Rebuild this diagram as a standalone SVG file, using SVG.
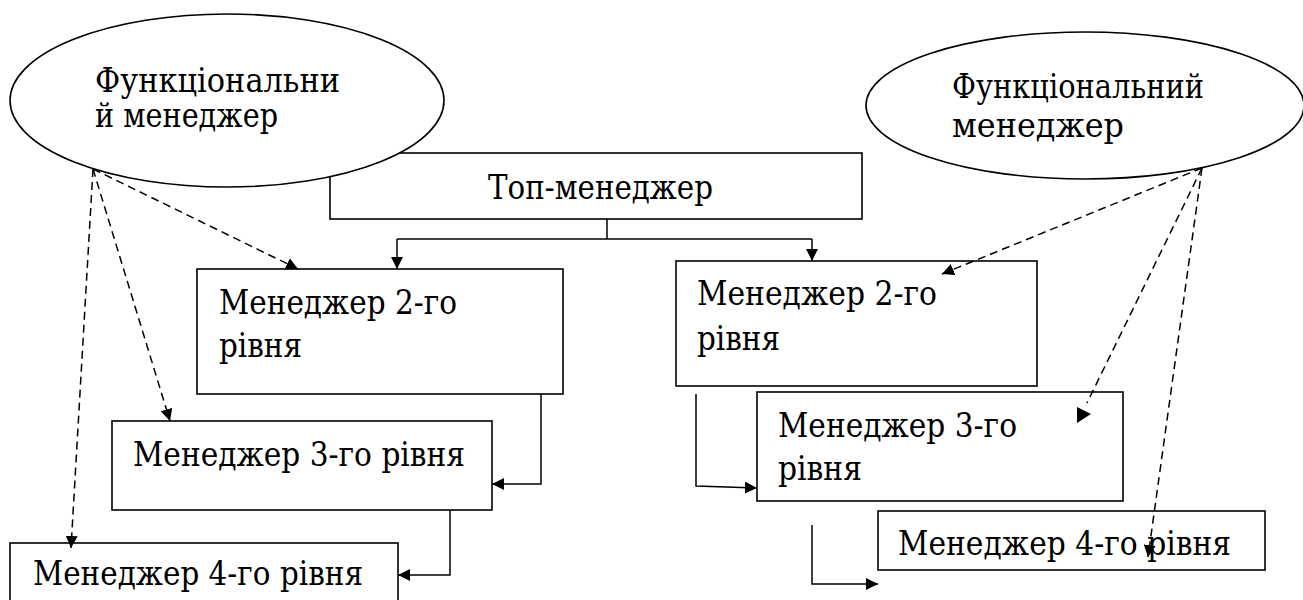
<svg xmlns="http://www.w3.org/2000/svg" width="1303" height="600" viewBox="0 0 1303 600">
<style>
.box{fill:#fff;stroke:#000;stroke-width:1.6}
.ell{fill:#fff;stroke:#000;stroke-width:1.6}
.t{font-family:"DejaVu Serif","Liberation Serif",serif;font-size:33px;fill:#000}
.ln{fill:none;stroke:#000;stroke-width:1.5}
.dash{fill:none;stroke:#000;stroke-width:1.5;stroke-dasharray:8 5}
.head{fill:#000}
</style>
<defs>
<marker id="arr" viewBox="0 0 12 12" refX="12" refY="6" markerWidth="12" markerHeight="12" markerUnits="userSpaceOnUse" orient="auto">
<path d="M0,0 L12,6 L0,12 Z" fill="#000"/>
</marker>
<clipPath id="clipR"><rect x="940" y="60" width="300" height="86"/></clipPath>
</defs>
<rect width="1303" height="600" fill="#fff"/>
<g id="top">
<rect class="box" x="330" y="153" width="532" height="66"/>
<text class="t" x="488" y="199" textLength="225" lengthAdjust="spacingAndGlyphs">Топ-менеджер</text>
</g>
<g id="l2">
<rect class="box" x="197" y="269" width="366" height="125"/>
<text class="t" x="219" y="314" textLength="238" lengthAdjust="spacingAndGlyphs">Менеджер 2-го</text>
<text class="t" x="219" y="357" textLength="83" lengthAdjust="spacingAndGlyphs">рівня</text>
</g>
<g id="l3">
<rect class="box" x="112" y="421" width="380" height="89"/>
<text class="t" x="133" y="466" textLength="332" lengthAdjust="spacingAndGlyphs">Менеджер 3-го рівня</text>
</g>
<g id="l4">
<rect class="box" x="10" y="543" width="388" height="70"/>
<text class="t" x="33" y="585" textLength="330" lengthAdjust="spacingAndGlyphs">Менеджер 4-го рівня</text>
</g>
<g id="r2">
<rect class="box" x="676" y="261" width="361" height="125"/>
<text class="t" x="697" y="305" textLength="240" lengthAdjust="spacingAndGlyphs">Менеджер 2-го</text>
<text class="t" x="697" y="350" textLength="83" lengthAdjust="spacingAndGlyphs">рівня</text>
</g>
<g id="r3">
<rect class="box" x="757" y="392" width="366" height="109"/>
<text class="t" x="778" y="437" textLength="239" lengthAdjust="spacingAndGlyphs">Менеджер 3-го</text>
<text class="t" x="778" y="480" textLength="84" lengthAdjust="spacingAndGlyphs">рівня</text>
</g>
<g id="r4">
<rect class="box" x="878" y="511" width="387" height="59"/>
<text class="t" x="898" y="555" textLength="333" lengthAdjust="spacingAndGlyphs">Менеджер 4-го рівня</text>
</g>
<g id="fl">
<ellipse class="ell" cx="227" cy="100.5" rx="217" ry="86.5"/>
<text class="t" x="95" y="92" textLength="245" lengthAdjust="spacingAndGlyphs">Функціональни</text>
<text class="t" x="95" y="127" textLength="183" lengthAdjust="spacingAndGlyphs">й менеджер</text>
</g>
<g id="fr">
<ellipse class="ell" cx="1085" cy="105.5" rx="219" ry="73.5"/>
<g clip-path="url(#clipR)">
<text class="t" x="952" y="98" textLength="252" lengthAdjust="spacingAndGlyphs">Функціональний</text>
<text class="t" x="952" y="137" textLength="172" lengthAdjust="spacingAndGlyphs">менеджер</text>
</g>
</g>
<g id="connectors">
<path class="ln" d="M607,219 V239"/>
<path class="ln" d="M397,239 H812"/>
<path class="ln" d="M397,239 V269" marker-end="url(#arr)"/>
<path class="ln" d="M812,239 V261" marker-end="url(#arr)"/>
<path class="ln" d="M541,394 V484 H492" marker-end="url(#arr)"/>
<path class="ln" d="M450,510 V575 H398" marker-end="url(#arr)"/>
<path class="ln" d="M696,394 V486 L757,488" marker-end="url(#arr)"/>
<path class="ln" d="M812,525 V584 H878" marker-end="url(#arr)"/>
<path class="dash" d="M93,169 L298,269" marker-end="url(#arr)"/>
<path class="dash" d="M93,169 L170,421" marker-end="url(#arr)"/>
<path class="dash" d="M93,169 L71,548" marker-end="url(#arr)"/>
<path class="dash" d="M1202,168 L942,274" marker-end="url(#arr)"/>
<path class="dash" d="M1202,168 L1087,403"/>
<polygon class="head" points="1077,407 1077,423 1091,414"/>
<path class="dash" d="M1202,168 L1148,557" marker-end="url(#arr)"/>
</g>
</svg>
